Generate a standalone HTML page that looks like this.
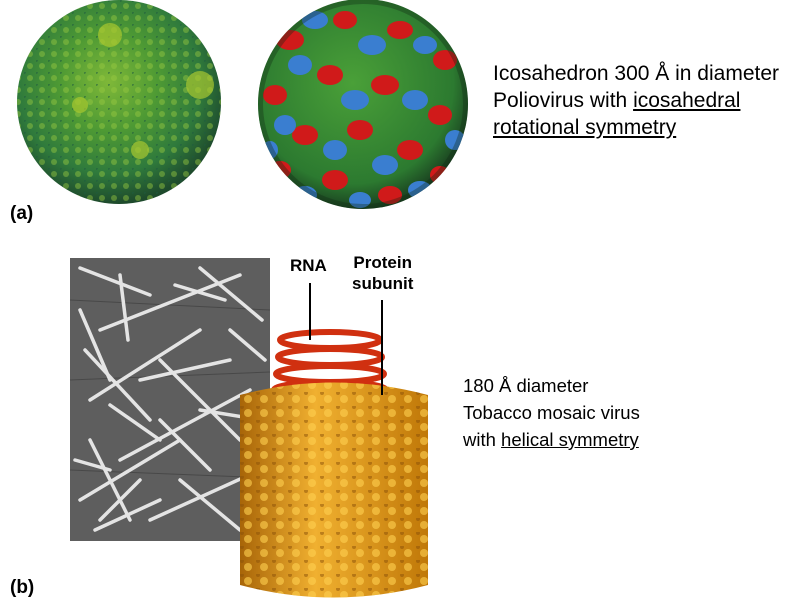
<!DOCTYPE html>
<html><head><meta charset="utf-8"><style>
html,body{margin:0;padding:0;background:#fff;}
body{width:789px;height:608px;position:relative;overflow:hidden;font-family:"Liberation Sans",Arial,sans-serif;}
.t{position:absolute;color:#000;}
.u{text-decoration:underline;}
.lab{position:absolute;font-weight:bold;font-size:19px;}
</style></head><body>
<svg style="position:absolute;left:0;top:0" width="789" height="608">
<defs>
<radialGradient id="s1" cx="45%" cy="40%" r="60%"><stop offset="0" stop-color="#7fb838"/><stop offset=".4" stop-color="#4e9a34"/><stop offset=".75" stop-color="#2f7a3c"/><stop offset="1" stop-color="#1e4a2c"/></radialGradient>
<radialGradient id="s2" cx="45%" cy="40%" r="60%"><stop offset="0" stop-color="#4aa038"/><stop offset=".8" stop-color="#2c7a30"/><stop offset="1" stop-color="#1a4020"/></radialGradient>
<clipPath id="c2"><circle cx="363" cy="104" r="105"/></clipPath>
<clipPath id="c1"><circle cx="119" cy="102" r="102"/></clipPath>
<linearGradient id="g" x1="0" x2="1"><stop offset="0" stop-color="#a86508"/><stop offset=".4" stop-color="#f0b030"/><stop offset="1" stop-color="#c07808"/></linearGradient>
<pattern id="bump" width="16" height="14" patternUnits="userSpaceOnUse"><circle cx="8" cy="7" r="4" fill="#ffd050" opacity=".6"/><circle cx="2" cy="1" r="2" fill="#8a5008" opacity=".5"/></pattern>
<pattern id="gb" width="12" height="12" patternUnits="userSpaceOnUse"><circle cx="6" cy="6" r="3" fill="#9acb40" opacity=".45"/><circle cx="0" cy="0" r="2" fill="#1e5a40" opacity=".5"/></pattern>
</defs>
<circle cx="119" cy="102" r="102" fill="url(#s1)"/>
<circle cx="119" cy="102" r="102" fill="url(#gb)"/>
<g clip-path="url(#c1)" fill="#a8c830" opacity=".7"><circle cx="110" cy="35" r="12"/><circle cx="200" cy="85" r="14"/><circle cx="80" cy="105" r="8"/><circle cx="140" cy="150" r="9"/></g>
<circle cx="363" cy="104" r="105" fill="url(#s2)"/>
<g clip-path="url(#c2)">
<g fill="#d01a1a">
<ellipse cx="290" cy="40" rx="14" ry="10"/><ellipse cx="345" cy="20" rx="12" ry="9"/><ellipse cx="400" cy="30" rx="13" ry="9"/><ellipse cx="445" cy="60" rx="12" ry="10"/>
<ellipse cx="275" cy="95" rx="12" ry="10"/><ellipse cx="330" cy="75" rx="13" ry="10"/><ellipse cx="385" cy="85" rx="14" ry="10"/><ellipse cx="440" cy="115" rx="12" ry="10"/>
<ellipse cx="305" cy="135" rx="13" ry="10"/><ellipse cx="360" cy="130" rx="13" ry="10"/><ellipse cx="410" cy="150" rx="13" ry="10"/><ellipse cx="280" cy="170" rx="11" ry="9"/>
<ellipse cx="335" cy="180" rx="13" ry="10"/><ellipse cx="390" cy="195" rx="12" ry="9"/><ellipse cx="440" cy="175" rx="10" ry="9"/>
</g>
<g fill="#3a7ed0">
<ellipse cx="315" cy="20" rx="13" ry="9"/><ellipse cx="372" cy="45" rx="14" ry="10"/><ellipse cx="425" cy="45" rx="12" ry="9"/><ellipse cx="300" cy="65" rx="12" ry="10"/>
<ellipse cx="355" cy="100" rx="14" ry="10"/><ellipse cx="415" cy="100" rx="13" ry="10"/><ellipse cx="455" cy="140" rx="10" ry="10"/><ellipse cx="285" cy="125" rx="11" ry="10"/>
<ellipse cx="335" cy="150" rx="12" ry="10"/><ellipse cx="385" cy="165" rx="13" ry="10"/><ellipse cx="305" cy="195" rx="12" ry="9"/><ellipse cx="420" cy="190" rx="12" ry="9"/>
<ellipse cx="360" cy="200" rx="11" ry="8"/><ellipse cx="270" cy="150" rx="8" ry="9"/>
</g>
<circle cx="363" cy="104" r="105" fill="none" stroke="#102a14" stroke-width="10" opacity=".35"/>
</g>
<rect x="70" y="258" width="200" height="283" fill="#5e5e5e"/>
<g stroke="#3a3a3a" stroke-width="1" opacity=".6">
<line x1="70" y1="300" x2="270" y2="310"/><line x1="70" y1="380" x2="270" y2="372"/><line x1="70" y1="470" x2="270" y2="478"/>
</g>
<g stroke="#e4e4e4" stroke-width="3.5" stroke-linecap="round">
<line x1="80" y1="268" x2="150" y2="295"/><line x1="100" y1="330" x2="240" y2="275"/>
<line x1="90" y1="400" x2="200" y2="330"/><line x1="120" y1="460" x2="250" y2="390"/>
<line x1="80" y1="500" x2="180" y2="440"/><line x1="150" y1="520" x2="260" y2="470"/>
<line x1="200" y1="268" x2="262" y2="320"/><line x1="85" y1="350" x2="150" y2="420"/>
<line x1="160" y1="360" x2="240" y2="440"/><line x1="100" y1="520" x2="140" y2="480"/>
<line x1="120" y1="275" x2="128" y2="340"/><line x1="175" y1="285" x2="225" y2="300"/>
<line x1="80" y1="310" x2="110" y2="380"/><line x1="140" y1="380" x2="230" y2="360"/>
<line x1="90" y1="440" x2="130" y2="520"/><line x1="180" y1="480" x2="240" y2="530"/>
<line x1="200" y1="410" x2="262" y2="420"/><line x1="75" y1="460" x2="110" y2="470"/>
<line x1="160" y1="420" x2="210" y2="470"/><line x1="230" y1="330" x2="265" y2="360"/>
<line x1="110" y1="405" x2="160" y2="440"/><line x1="95" y1="530" x2="160" y2="500"/>
</g>
<g stroke="#d03010" stroke-width="6" fill="none">
<ellipse cx="330" cy="340" rx="50" ry="8"/><ellipse cx="330" cy="357" rx="52" ry="8"/>
<ellipse cx="330" cy="374" rx="54" ry="8"/><ellipse cx="330" cy="390" rx="56" ry="8"/>
</g>
<path d="M240 395 Q334 370 428 395 L428 585 Q334 610 240 585 Z" fill="url(#g)"/>
<path d="M240 395 Q334 370 428 395 L428 585 Q334 610 240 585 Z" fill="url(#bump)"/>
<line x1="310" y1="283" x2="310" y2="340" stroke="#000" stroke-width="2"/>
<line x1="382" y1="300" x2="382" y2="395" stroke="#000" stroke-width="2"/>
</svg>
<div class="t" style="left:493px;top:60px;font-size:21px;line-height:27px">Icosahedron 300 Å in diameter<br>Poliovirus with <span class="u">icosahedral</span><br><span class="u">rotational symmetry</span></div>
<div class="lab" style="left:10px;top:203px">(a)</div>
<div class="lab" style="left:290px;top:256px;font-size:17px">RNA</div>
<div class="lab" style="left:352px;top:252px;font-size:17px;line-height:21px;text-align:center">Protein<br>subunit</div>
<div class="t" style="left:463px;top:372px;font-size:18.5px;line-height:27px">180 Å diameter<br>Tobacco mosaic virus<br>with <span class="u">helical symmetry</span></div>
<div class="lab" style="left:10px;top:577px">(b)</div>
</body></html>
